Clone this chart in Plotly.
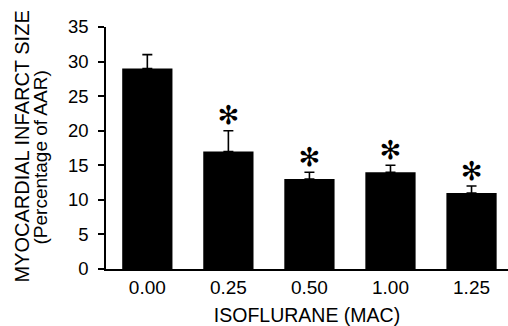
import plotly.graph_objects as go

categories = ["0.00", "0.25", "0.50", "1.00", "1.25"]
infarct_size = [29, 17, 13, 14, 11]
sem = [2, 3, 1, 1, 1]
significant = [False, True, True, True, True]
y_ticks = [0, 5, 10, 15, 20, 25, 30, 35]

FONT = "Liberation Sans, Arial, sans-serif"

fig = go.Figure()
fig.add_trace(go.Bar(
    x=categories, y=infarct_size,
    marker=dict(color="black", line=dict(width=0)),
    width=0.62,
    error_y=dict(type="data", array=sem, arrayminus=[0] * len(sem), symmetric=False,
                 color="black", thickness=1.6, width=5),
    showlegend=False,
))

star_x = [c for c, s in zip(categories, significant) if s]
star_y = [v + e for v, e, s in zip(infarct_size, sem, significant) if s]
fig.add_trace(go.Scatter(
    x=star_x, y=star_y, mode="text", text=["✻"] * len(star_x),
    textposition="top center",
    textfont=dict(family="DejaVu Sans", size=26, color="black"),
    showlegend=False, cliponaxis=False,
))

fig.update_layout(
    width=508, height=326,
    margin=dict(l=106, r=0, t=27, b=57),
    plot_bgcolor="white", paper_bgcolor="white",
    font=dict(family=FONT, color="black", size=18),
    annotations=[
        dict(text="MYOCARDIAL INFARCT SIZE",
             xref="paper", yref="paper", x=-0.2077, y=0.504,
             xanchor="center", yanchor="middle", textangle=-90,
             showarrow=False, font=dict(family=FONT, size=20, color="black")),
        dict(text="(Percentage of AAR)",
             xref="paper", yref="paper", x=-0.164, y=0.461,
             xanchor="center", yanchor="middle", textangle=-90,
             showarrow=False, font=dict(family=FONT, size=19, color="black")),
    ],
)
fig.update_xaxes(
    type="category", range=[-0.51, 4.45],
    showline=True, linecolor="black", linewidth=1.5,
    ticks="", showgrid=False, zeroline=False,
    tickfont=dict(size=19),
    title=dict(text="ISOFLURANE (MAC)", font=dict(size=19.5), standoff=16),
)
fig.update_yaxes(
    range=[0, 35], tickvals=y_ticks,
    showline=True, linecolor="black", linewidth=1.5,
    ticks="outside", ticklen=6, tickwidth=1.5, tickcolor="black",
    showgrid=False, zeroline=False,
    tickfont=dict(size=18.5), ticklabelstandoff=6,
)

fig.write_html("out.html", config={"displayModeBar": False},
               post_script="document.body.style.margin='0';document.body.style.overflow='hidden';")
